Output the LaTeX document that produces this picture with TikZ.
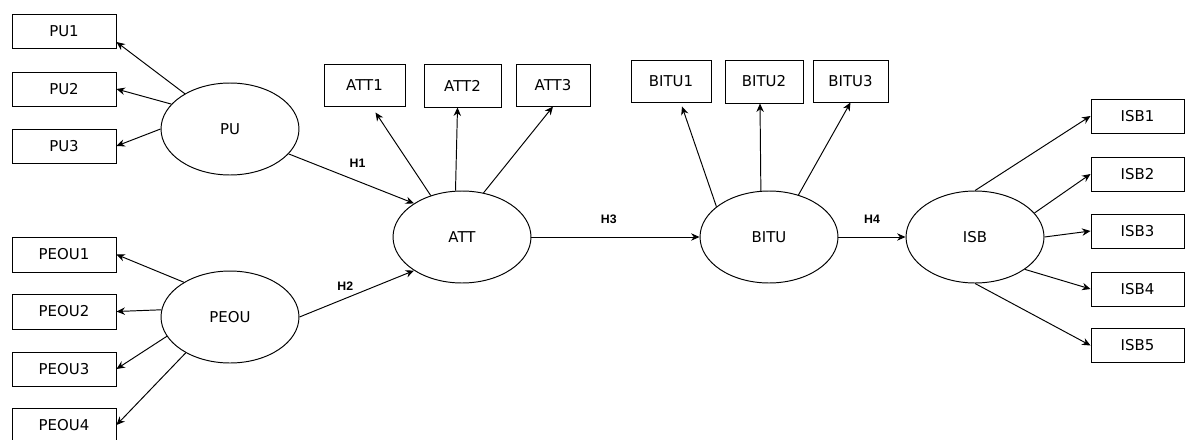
\documentclass[tikz,border=0pt]{standalone}
\usepackage{fontspec}
\setmainfont{DejaVu Sans}
\newfontfamily\hfont{Liberation Sans}
\usetikzlibrary{arrows.meta,shapes.geometric,calc}

\begin{document}
\begin{tikzpicture}[
  x=0.02cm,y=-0.02cm,
  font=\fontsize{8.5}{10}\selectfont,
  line width=0.55pt,
  >={Stealth[length=4.8pt,width=4.2pt]},
  item/.style={draw,inner sep=0pt,minimum width=2.08cm,minimum height=0.68cm},
  construct/.style={draw,ellipse,inner sep=0pt,minimum width=2.76cm,minimum height=1.84cm},
  hyp/.style={font=\hfont\bfseries\fontsize{7}{8}\selectfont,inner sep=1pt},
  arrow/.style={->}
]
  \useasboundingbox (0,0) rectangle (1185,439);

  % PU and its items
  \node[construct] (pu) at (230,129) {PU};
  \node[item] (pu1) at (64,31) {PU1};
  \node[item] (pu2) at (64,89) {PU2};
  \node[item] (pu3) at (64,146) {PU3};
  \draw[arrow] (pu.142) -- ($(pu1.east)+(0,11)$);
  \draw[arrow] (pu.157) -- (pu2.east);
  \draw[arrow] (pu.west) -- (pu3.east);

  % PEOU and its items
  \node[construct] (peou) at (230,317) {PEOU};
  \node[item,minimum height=0.7cm] (peou1) at (64,254.5) {PEOU1};
  \node[item,minimum height=0.7cm] (peou2) at (64,311.5) {PEOU2};
  \node[item] (peou3) at (64,369) {PEOU3};
  \node[item] (peou4) at (64,425) {PEOU4};
  \draw[arrow] (peou.143) -- (peou1.east);
  \draw[arrow] (peou.174) -- (peou2.east);
  \draw[arrow] (peou.197) -- (peou3.east);
  \draw[arrow] (peou.219) -- (peou4.east);

  % ATT
  \node[construct] (att) at (462,237) {ATT};
  \node[item,minimum width=1.62cm,minimum height=0.84cm] (att1) at (364.5,85) {ATT1};
  \node[item,minimum width=1.54cm,minimum height=0.86cm] (att2) at (462.5,85.5) {ATT2};
  \node[item,minimum width=1.48cm,minimum height=0.84cm] (att3) at (553,85) {ATT3};
  \draw[arrow] (att.127) -- ($(att1.south)+(11,6)$);
  \draw[arrow] (att.98) -- ($(att2.south)+(-5,0)$);
  \draw[arrow] (att.64) -- (att3.south);

  % BITU
  \node[construct] (bitu) at (769,237) {BITU};
  \node[item,minimum width=1.6cm,minimum height=0.84cm] (bitu1) at (671,81) {BITU1};
  \node[item,minimum width=1.56cm,minimum height=0.86cm] (bitu2) at (764,81.5) {BITU2};
  \node[item,minimum width=1.5cm,minimum height=0.84cm] (bitu3) at (850.5,81) {BITU3};
  \draw[arrow] (bitu.150) -- ($(bitu1.south)+(11,4)$);
  \draw[arrow] (bitu.100) -- ($(bitu2.south)+(-4,0)$);
  \draw[arrow] (bitu.55) -- (bitu3.south);

  % ISB
  \node[construct] (isb) at (975,237) {ISB};
  \node[item,minimum width=1.86cm] (isb1) at (1137.5,116) {ISB1};
  \node[item,minimum width=1.86cm] (isb2) at (1137.5,174) {ISB2};
  \node[item,minimum width=1.86cm] (isb3) at (1137.5,231) {ISB3};
  \node[item,minimum width=1.86cm] (isb4) at (1137.5,289) {ISB4};
  \node[item,minimum width=1.86cm] (isb5) at (1137.5,345.5) {ISB5};
  \draw[arrow] (isb.north) -- (isb1.west);
  \draw[arrow] (isb.22) -- (isb2.west);
  \draw[arrow] (isb.east) -- (isb3.west);
  \draw[arrow] (isb.-33) -- (isb4.west);
  \draw[arrow] (isb.south) -- (isb5.west);

  % paths H1-H4
  \draw[arrow] (pu.-23) -- (att.145) node[hyp,pos=.55,yshift=10pt] (h1) {H1};
  \draw[arrow] (peou.east) -- (att.215) node[hyp,pos=.4,yshift=7pt] (h2) {H2};
  \draw[arrow] (att.east) -- (bitu.west) node[hyp,pos=.46,yshift=10pt] (h3) {H3};
  \draw[arrow] (bitu.east) -- (isb.west) node[hyp,pos=.5,yshift=10pt] (h4) {H4};

\end{tikzpicture}
\end{document}
